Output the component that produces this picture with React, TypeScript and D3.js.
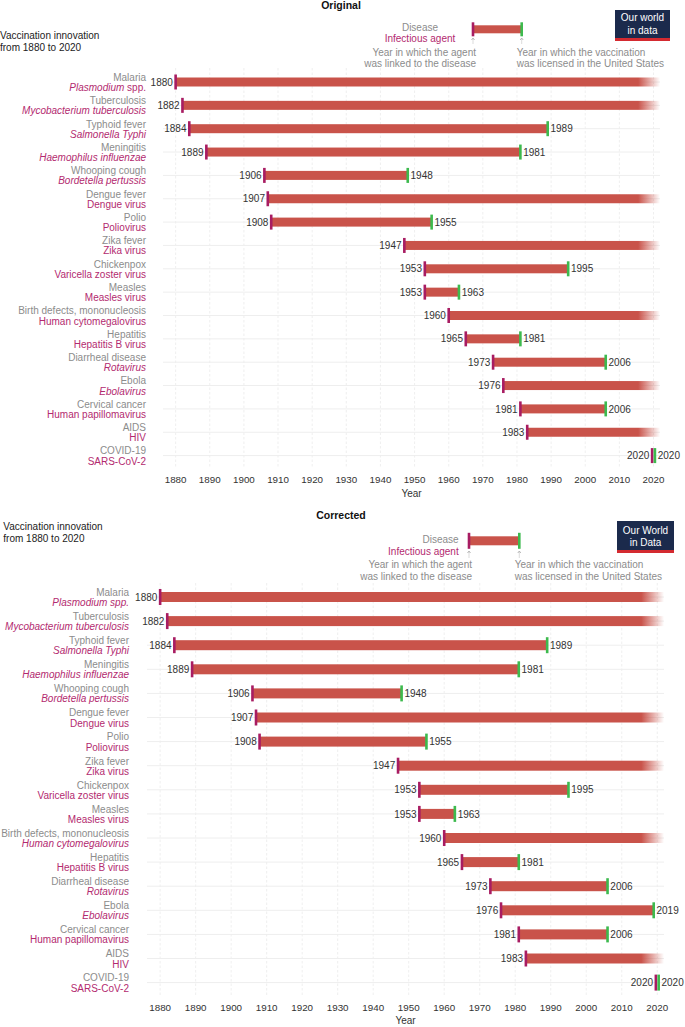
import React from "react";
import * as d3 from "d3";

// ---------- data ----------
const diseases = [
  "Malaria", "Tuberculosis", "Typhoid fever", "Meningitis", "Whooping cough",
  "Dengue fever", "Polio", "Zika fever", "Chickenpox", "Measles",
  "Birth defects, mononucleosis", "Hepatitis", "Diarrheal disease", "Ebola",
  "Cervical cancer", "AIDS", "COVID-19",
];
const agents = [
  "Plasmodium spp.", "Mycobacterium tuberculosis", "Salmonella Typhi", "Haemophilus influenzae",
  "Bordetella pertussis", "Dengue virus", "Poliovirus", "Zika virus", "Varicella zoster virus",
  "Measles virus", "Human cytomegalovirus", "Hepatitis B virus", "Rotavirus", "Ebolavirus",
  "Human papillomavirus", "HIV", "SARS-CoV-2",
];
// i = italic, n = normal, p = first word italic only
const agentStyleOriginal = ["p", "i", "i", "i", "i", "n", "n", "n", "n", "n", "n", "n", "i", "i", "n", "n", "n"];
const agentStyleCorrected = ["i", "i", "i", "i", "i", "n", "n", "n", "n", "n", "i", "n", "i", "i", "n", "n", "n"];
const linkedYears = [1880, 1882, 1884, 1889, 1906, 1907, 1908, 1947, 1953, 1953, 1960, 1965, 1973, 1976, 1981, 1983, 2020];
const licensedOriginal: (number | null)[] = [null, null, 1989, 1981, 1948, null, 1955, null, 1995, 1963, null, 1981, 2006, null, 2006, null, 2020];
const licensedCorrected: (number | null)[] = [null, null, 1989, 1981, 1948, null, 1955, null, 1995, 1963, null, 1981, 2006, 2019, 2006, null, 2020];
const tickYears = [1880, 1890, 1900, 1910, 1920, 1930, 1940, 1950, 1960, 1970, 1980, 1990, 2000, 2010, 2020];
const xDomain = [1876.3, 2021.9];
const openEndYear = 2021.9;
const fadeFrom = 2015.5;

// ---------- style ----------
const FONT = "'Liberation Sans', Arial, Helvetica, sans-serif";
const BAR = "#c9534a";
const MAG = "#a81c62";
const GREEN = "#3dba4e";
const AGENT = "#b32a6f";
const GREYTXT = "#8c8c8c";
const DARK = "#333333";
const NAVY = "#1b2a4c";
const RED = "#d42a30";

type PanelCfg = {
  id: string;
  title: string;
  titleY: number;
  subX: number;
  subY: number;
  rowStart: number;
  rowStep: number;
  xRange: [number, number];
  labelX: number;
  barH: number;
  tickH: number;
  axisY: number;
  yearY: number;
  gridTop: number;
  gridBottom: number;
  licensed: (number | null)[];
  agentStyle: string[];
  legend: {
    textX: number;
    textAnchor: "middle" | "end";
    diseaseY: number;
    agentY: number;
    barX1: number;
    barX2: number;
    barY: number;
    barH: number;
    tickH: number;
    arrowY1: number;
    arrowY2: number;
    leftTextX: number;
    rightTextX: number;
    line1Y: number;
    line2Y: number;
  };
  logo: { x: number; y: number; w: number; h: number; l1: string; l2: string; b1: number; b2: number };
};

const panels: PanelCfg[] = [
  {
    id: "orig",
    title: "Original",
    titleY: 9,
    subX: 0,
    subY: 38.5,
    rowStart: 82,
    rowStep: 23.35,
    xRange: [163, 660],
    labelX: 146,
    barH: 9,
    tickH: 15,
    axisY: 482.5,
    yearY: 497,
    gridTop: 68,
    gridBottom: 467,
    licensed: licensedOriginal,
    agentStyle: agentStyleOriginal,
    legend: {
      textX: 420, textAnchor: "middle", diseaseY: 30.6, agentY: 42.2,
      barX1: 473, barX2: 521.7, barY: 29.3, barH: 8, tickH: 14, arrowY1: 38, arrowY2: 44,
      leftTextX: 476, rightTextX: 516.7, line1Y: 55.6, line2Y: 67,
    },
    logo: { x: 615, y: 10, w: 55, h: 31, l1: "Our world", l2: "in data", b1: 21.4, b2: 33.8 },
  },
  {
    id: "corr",
    title: "Corrected",
    titleY: 519,
    subX: 3.3,
    subY: 529.6,
    rowStart: 597,
    rowStep: 24.1,
    xRange: [147, 664],
    labelX: 129,
    barH: 10,
    tickH: 16,
    axisY: 1010.5,
    yearY: 1024,
    gridTop: 583,
    gridBottom: 996,
    licensed: licensedCorrected,
    agentStyle: agentStyleCorrected,
    legend: {
      textX: 458.7, textAnchor: "end", diseaseY: 543, agentY: 554.5,
      barX1: 469, barX2: 519.3, barY: 540.8, barH: 9, tickH: 16, arrowY1: 551, arrowY2: 557.5,
      leftTextX: 472, rightTextX: 514.7, line1Y: 567.6, line2Y: 580,
    },
    logo: { x: 617, y: 521, w: 57, h: 32, l1: "Our World", l2: "in Data", b1: 533.6, b2: 545.8 },
  },
];

function Arrow({ x, y1, y2 }: { x: number; y1: number; y2: number }) {
  return (
    <g>
      <line x1={x} x2={x} y1={y1 + 1.5} y2={y2} stroke="#999" strokeWidth={0.7} strokeDasharray="1,1" />
      <path d={`M${x - 1.5},${y1 + 2} L${x},${y1} L${x + 1.5},${y1 + 2}`} fill="none" stroke="#999" strokeWidth={0.7} />
    </g>
  );
}

function Panel({ cfg }: { cfg: PanelCfg }) {
  const x = d3.scaleLinear().domain(xDomain).range(cfg.xRange);
  const y = d3.scaleLinear().domain([0, 1]).range([cfg.rowStart, cfg.rowStart + cfg.rowStep]);
  const gradId = `fade-${cfg.id}`;
  const L = cfg.legend;
  const midX = (cfg.xRange[0] + cfg.xRange[1]) / 2;
  return (
    <g>
      <defs>
        <linearGradient id={gradId} gradientUnits="userSpaceOnUse" x1={x(fadeFrom)} x2={x(openEndYear)} y1={0} y2={0}>
          <stop offset="0" stopColor={BAR} stopOpacity={1} />
          <stop offset="1" stopColor={BAR} stopOpacity={0} />
        </linearGradient>
      </defs>
      {/* title */}
      <text x={341} y={cfg.titleY} textAnchor="middle" fontWeight="bold" fontSize={10.5} fill="#111">
        {cfg.title}
      </text>
      <text x={cfg.subX} y={cfg.subY} fontSize={10} fill="#222">Vaccination innovation</text>
      <text x={cfg.subX} y={cfg.subY + 12.6} fontSize={10} fill="#222">from 1880 to 2020</text>

      {/* grid */}
      {tickYears.map((t) => (
        <line key={`v${t}`} x1={x(t)} x2={x(t)} y1={cfg.gridTop} y2={cfg.gridBottom}
          stroke="#ebebeb" strokeWidth={0.8} strokeDasharray="2.5,2" />
      ))}
      {diseases.map((_, i) => (
        <line key={`h${i}`} x1={cfg.xRange[0]} x2={cfg.xRange[1]} y1={y(i)} y2={y(i)} stroke="#eeeeee" strokeWidth={1} />
      ))}

      {/* labels */}
      {diseases.map((d, i) => {
        const style = cfg.agentStyle[i];
        const a = agents[i];
        let agentNode: React.ReactNode;
        if (style === "p") {
          const parts = a.split(" ");
          agentNode = (
            <>
              <tspan fontStyle="italic">{parts[0]}</tspan>
              <tspan>{" " + parts.slice(1).join(" ")}</tspan>
            </>
          );
        } else {
          agentNode = <tspan fontStyle={style === "i" ? "italic" : "normal"}>{a}</tspan>;
        }
        return (
          <g key={`l${i}`}>
            <text x={cfg.labelX} y={y(i) - 1.2} textAnchor="end" fontSize={10} fill={GREYTXT}>{d}</text>
            <text x={cfg.labelX} y={y(i) + 9} textAnchor="end" fontSize={10} fill={AGENT}>{agentNode}</text>
          </g>
        );
      })}

      {/* bars */}
      {linkedYears.map((s, i) => {
        const e = cfg.licensed[i];
        const cy = y(i);
        const same = e !== null && e === s;
        const xs = same ? x(s) - 1.4 : x(s);
        const xe = e === null ? x(openEndYear) : same ? x(e) + 1.4 : x(e);
        return (
          <g key={`b${i}`}>
            {!same && (
              <rect x={xs} y={cy - cfg.barH / 2} width={xe - xs} height={cfg.barH}
                fill={e === null ? `url(#${gradId})` : BAR} />
            )}
            <rect x={xs - 1.3} y={cy - cfg.tickH / 2} width={2.6} height={cfg.tickH} fill={MAG} />
            {e !== null && (
              <rect x={xe - 1.3} y={cy - cfg.tickH / 2} width={2.6} height={cfg.tickH} fill={GREEN} />
            )}
            <text x={xs - 2.8} y={cy + 3.6} textAnchor="end" fontSize={10} fill={DARK}>{s}</text>
            {e !== null && (
              <text x={xe + 2.8} y={cy + 3.6} textAnchor="start" fontSize={10} fill={DARK}>{e}</text>
            )}
          </g>
        );
      })}

      {/* axis */}
      {tickYears.map((t) => (
        <text key={`t${t}`} x={x(t)} y={cfg.axisY} textAnchor="middle" fontSize={9.8} fill={DARK}>{t}</text>
      ))}
      <text x={midX} y={cfg.yearY} textAnchor="middle" fontSize={10} fill={DARK}>Year</text>

      {/* legend */}
      <text x={L.textX} y={L.diseaseY} textAnchor={L.textAnchor} fontSize={10} fill={GREYTXT}>Disease</text>
      <text x={L.textX} y={L.agentY} textAnchor={L.textAnchor} fontSize={10} fill={AGENT}>Infectious agent</text>
      <rect x={L.barX1} y={L.barY - L.barH / 2} width={L.barX2 - L.barX1} height={L.barH} fill={BAR} />
      <rect x={L.barX1 - 1.3} y={L.barY - L.tickH / 2} width={2.6} height={L.tickH} fill={MAG} />
      <rect x={L.barX2 - 1.3} y={L.barY - L.tickH / 2} width={2.6} height={L.tickH} fill={GREEN} />
      <Arrow x={L.barX1} y1={L.arrowY1} y2={L.arrowY2} />
      <Arrow x={L.barX2} y1={L.arrowY1} y2={L.arrowY2} />
      <text x={L.leftTextX} y={L.line1Y} textAnchor="end" fontSize={10} fill={GREYTXT}>Year in which the agent</text>
      <text x={L.leftTextX} y={L.line2Y} textAnchor="end" fontSize={10} fill={GREYTXT}>was linked to the disease</text>
      <text x={L.rightTextX} y={L.line1Y} fontSize={10} fill={GREYTXT}>Year in which the vaccination</text>
      <text x={L.rightTextX} y={L.line2Y} fontSize={10} fill={GREYTXT}>was licensed in the United States</text>

      {/* logo */}
      <rect x={cfg.logo.x} y={cfg.logo.y} width={cfg.logo.w} height={cfg.logo.h} fill={NAVY} />
      <rect x={cfg.logo.x} y={cfg.logo.y + cfg.logo.h - 3} width={cfg.logo.w} height={3} fill={RED} />
      <text x={cfg.logo.x + cfg.logo.w / 2} y={cfg.logo.b1} textAnchor="middle" fontSize={10} fill="#fff">{cfg.logo.l1}</text>
      <text x={cfg.logo.x + cfg.logo.w / 2} y={cfg.logo.b2} textAnchor="middle" fontSize={10} fill="#fff">{cfg.logo.l2}</text>
    </g>
  );
}

export default function App() {
  return (
    <svg width={685} height={1027} style={{ position: "absolute", left: 0, top: 0, background: "#fff" }}
      fontFamily={FONT}>
      <rect x={0} y={0} width={685} height={1027} fill="#fff" />
      {panels.map((p) => (
        <Panel key={p.id} cfg={p} />
      ))}
    </svg>
  );
}
